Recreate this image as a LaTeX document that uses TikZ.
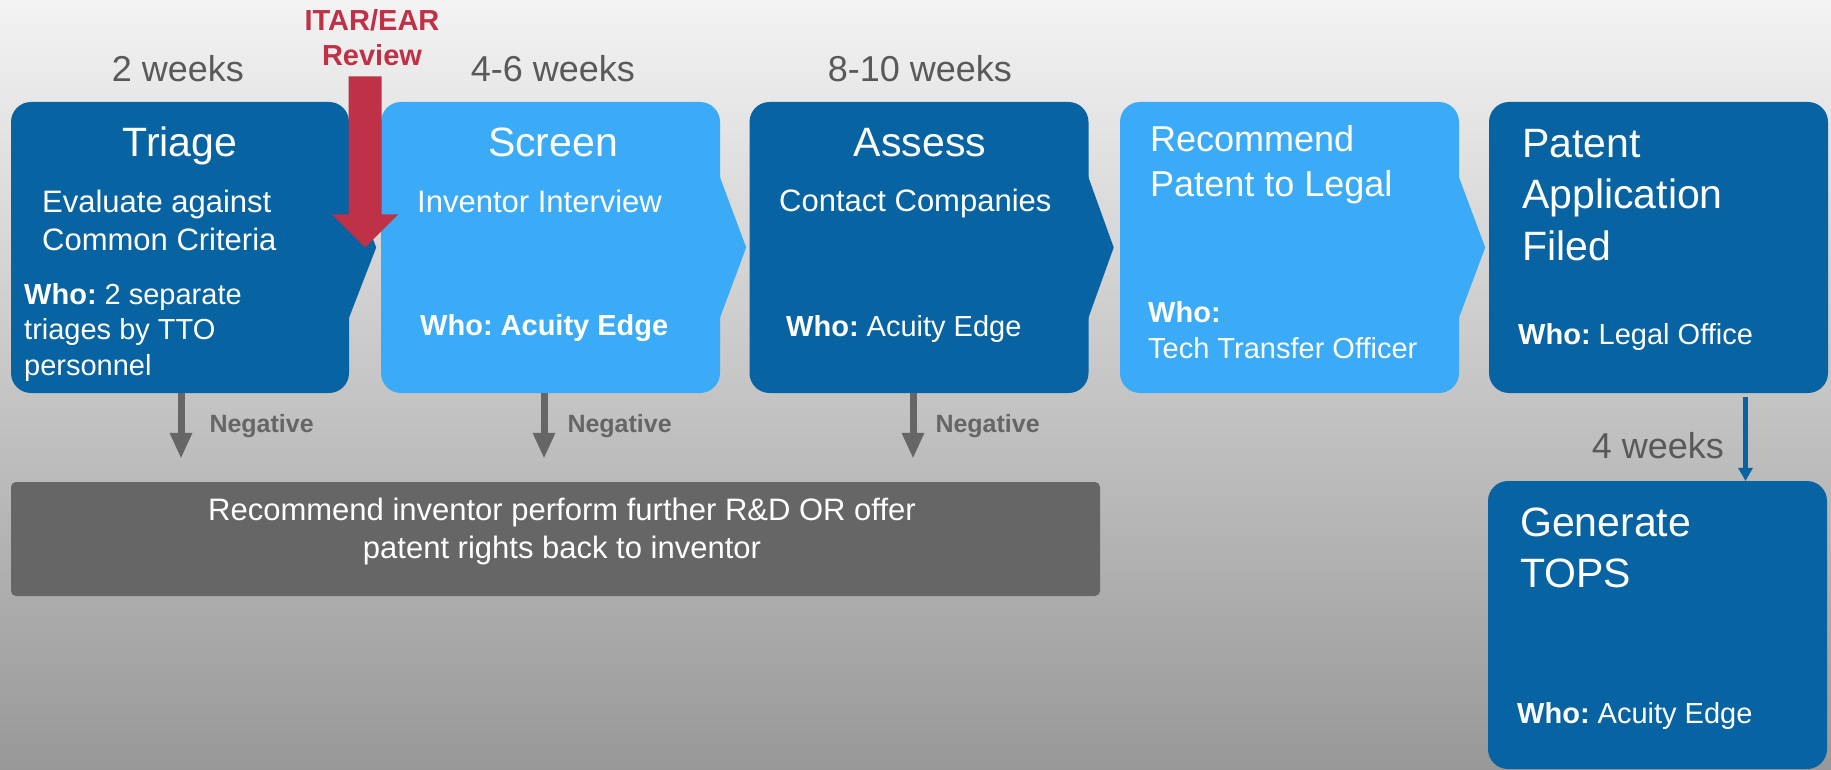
\documentclass[tikz,border=0pt]{standalone}
\usepackage{fontspec}
\setmainfont{Liberation Sans}
\usepackage{tikz}
\usetikzlibrary{arrows.meta, positioning, calc}
\definecolor{darkblue}{RGB}{8, 99, 163}
\definecolor{lightblue}{RGB}{59, 171, 248}
\definecolor{rejectgray}{RGB}{102, 102, 102}
\definecolor{itarred}{RGB}{190, 49, 70}
\definecolor{weekgray}{RGB}{89, 89, 89}
\definecolor{bgtop}{RGB}{243, 243, 243}
\definecolor{bgbottom}{RGB}{152, 152, 152}
\frenchspacing

\begin{document}
\begin{tikzpicture}[x=1pt, y=-1pt,
        stage/.style={rectangle, rounded corners=20pt, minimum width=339pt, minimum height=291pt, inner sep=0pt},
        title/.style={font=\fontsize{41}{51}\selectfont, text=white, inner sep=0pt, align=left},
        sub/.style={font=\fontsize{31}{38}\selectfont, text=white, inner sep=0pt, align=left},
        who/.style={font=\fontsize{29}{35.5}\selectfont, text=white, inner sep=0pt, align=left},
        weeks/.style={font=\fontsize{36}{43}\selectfont, text=weekgray, inner sep=0pt},
        negtext/.style={font=\fontsize{25}{30}\selectfont\bfseries, text=rejectgray, inner sep=0pt},
        itar/.style={font=\fontsize{29}{35}\selectfont\bfseries, text=itarred, inner sep=0pt, align=center},
        negarrow/.style={-{Triangle[length=25pt, width=23pt, line width=0pt]}, line width=7pt, rejectgray},
        bluearrow/.style={-{Triangle[length=13pt, width=15pt, line width=0pt]}, line width=5pt, darkblue}
    ]
        % Background
        \shade[top color=bgtop, bottom color=bgbottom] (0,0) rectangle (1831,770);
        \useasboundingbox (0,0) rectangle (1831,770);

        % Triage (multi-line texts sit on their last baseline)
        \node[stage, fill=darkblue, minimum width=338pt] (triage) at (180,247.5) {};
        \fill[darkblue] ([xshift=-2pt, yshift=75pt]triage.east) -- ([xshift=27pt]triage.east) -- ([xshift=-2pt, yshift=-75pt]triage.east) -- cycle;
        \node[title, anchor=base] (t1) at (180,157) {Triage};
        \node[sub, anchor=base west] (s1) at (42,251) {Evaluate against\\Common Criteria};
        \node[who, anchor=base west] (w1) at (24,375) {\textbf{Who:} 2 separate\\triages by TTO\\personnel};

        % Screen
        \node[stage, fill=lightblue] (screen) at (550.5,247.5) {};
        \fill[lightblue] ([xshift=-2pt, yshift=75pt]screen.east) -- ([xshift=26pt]screen.east) -- ([xshift=-2pt, yshift=-75pt]screen.east) -- cycle;
        \node[title, anchor=base] (t2) at (553,157) {Screen};
        \node[sub, anchor=base west] (s2) at (417,213) {Inventor Interview};
        \node[who, anchor=base west] (w2) at (420,335) {\textbf{Who: Acuity Edge}};

        % Assess
        \node[stage, fill=darkblue] (assess) at (919,247.5) {};
        \fill[darkblue] ([xshift=-2pt, yshift=75pt]assess.east) -- ([xshift=25pt]assess.east) -- ([xshift=-2pt, yshift=-75pt]assess.east) -- cycle;
        \node[title, anchor=base] (t3) at (920,157) {Assess};
        \node[sub, anchor=base west] (s3) at (779,212) {Contact Companies};
        \node[who, anchor=base west] (w3) at (786,336) {\textbf{Who:} Acuity Edge};

        % Recommend
        \node[stage, fill=lightblue] (recommend) at (1289.5,247.5) {};
        \fill[lightblue] ([xshift=-2pt, yshift=75pt]recommend.east) -- ([xshift=26pt]recommend.east) -- ([xshift=-2pt, yshift=-75pt]recommend.east) -- cycle;
        \node[title, font=\fontsize{36}{45}\selectfont, anchor=base west] (t4) at (1150,197) {Recommend\\Patent to Legal};
        \node[who, anchor=base west] (w4) at (1148,358) {\textbf{Who:}\\Tech Transfer Officer};

        % Patent application
        \node[stage, fill=darkblue] (patent) at (1658.5,247.5) {};
        \node[title, font=\fontsize{41}{51.5}\selectfont, anchor=base west] (t5) at (1522,260) {Patent\\Application\\Filed};
        \node[who, anchor=base west] (w5) at (1518,344) {\textbf{Who:} Legal Office};

        % TOPS
        \node[stage, fill=darkblue, minimum height=288pt] (tops) at (1657.5,625) {};
        \node[title, anchor=base west] (t6) at (1520,587) {Generate\\TOPS};
        \node[who, anchor=base west] (w6) at (1517,723) {\textbf{Who:} Acuity Edge};
        \draw[bluearrow, shorten <=4pt] ([xshift=87pt]patent.south) -- ([xshift=87pt]patent.south |- tops.north)
            node[weeks, pos=0.6, left=19pt] (wk4) {4 weeks};

        % Durations
        \node[weeks, anchor=base] (wk1) at (178,82) {2 weeks};
        \node[weeks, anchor=base] (wk2) at (553,82) {4-6 weeks};
        \node[weeks, anchor=base] (wk3) at (920,82) {8-10 weeks};

        % ITAR/EAR review
        \node[itar, anchor=base] (itar) at (372,66) {ITAR/EAR\\Review};
        \coordinate (gap1) at ($(triage.east)!0.5!(screen.west)$);
        \fill[itarred] (gap1) -- ++(-33,-33) -- ++(16.5,0) -- ++(0,-138) -- ++(33,0) -- ++(0,138) -- ++(16.5,0) -- cycle;

        % Rejection
        \node[rectangle, rounded corners=5pt, fill=rejectgray, minimum width=1089pt, minimum height=114pt] (reject) at (555.5,539) {};
        \node[sub, align=center, anchor=base] (rejecttext) at (562,558) {Recommend inventor perform further R\&D OR offer\\patent rights back to inventor};
        \draw[negarrow, shorten >=24pt] ([xshift=1pt]triage.south) -- ([xshift=1pt]triage.south |- reject.north)
            node[negtext, pos=0.37, right=25pt] (neg1) {Negative};
        \draw[negarrow, shorten >=24pt] ([xshift=-6.5pt]screen.south) -- ([xshift=-6.5pt]screen.south |- reject.north)
            node[negtext, pos=0.37, right=20pt] (neg2) {Negative};
        \draw[negarrow, shorten >=24pt] ([xshift=-6pt]assess.south) -- ([xshift=-6pt]assess.south |- reject.north)
            node[negtext, pos=0.37, right=19pt] (neg3) {Negative};

    \end{tikzpicture}
\end{document}
